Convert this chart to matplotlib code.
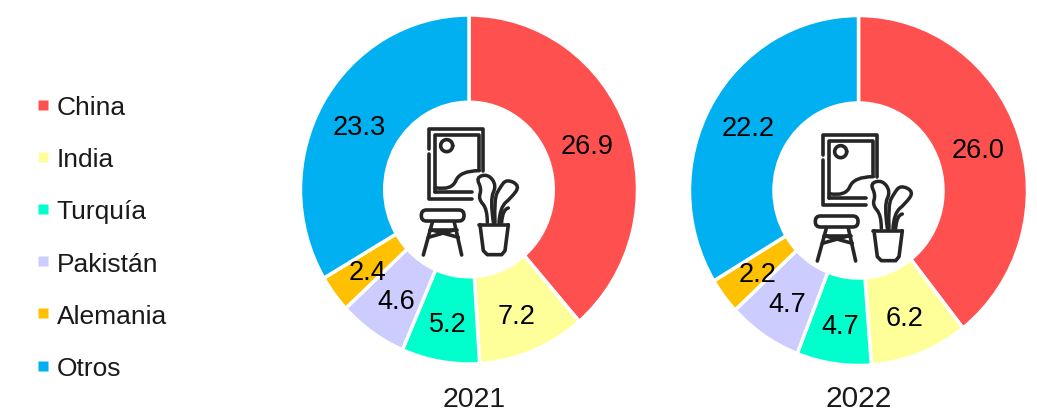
"""Cuota de mercado en dos anillos, 2021 y 2022, con icono central."""
from __future__ import annotations

import matplotlib

matplotlib.use("Agg")
import matplotlib.pyplot as plt
from matplotlib.lines import Line2D
from matplotlib.patches import FancyBboxPatch, PathPatch
from matplotlib.path import Path as MplPath
import numpy as np

W, H = 1037, 414

CATEGORIES = ["China", "India", "Turquía", "Pakistán", "Alemania", "Otros"]
VALUES_2021 = [26.9, 7.2, 5.2, 4.6, 2.4, 23.3]
VALUES_2022 = [26.0, 6.2, 4.7, 4.7, 2.2, 22.2]
YEARS = ["2021", "2022"]
COLORS = ["#ff5050", "#ffff99", "#00ffcc", "#ccccff", "#ffc000", "#00b0f0"]
INK = "#262626"


def smooth(points):
    # quadratic spline through the midpoints of the control polygon
    pts = np.asarray(points, dtype=float)
    verts = [pts[0]]
    codes = [MplPath.MOVETO]
    for i in range(1, len(pts) - 1):
        end = pts[i + 1] if i == len(pts) - 2 else (pts[i] + pts[i + 1]) / 2
        verts += [pts[i], end]
        codes += [MplPath.CURVE3, MplPath.CURVE3]
    return MplPath(verts, codes)


def draw_icon(ax, x0, y0):
    # shapes are in 3x crop pixels, x0/y0 is the crop origin
    style = dict(color=INK, lw=2.6, solid_capstyle="round", solid_joinstyle="round")

    def line(xs, ys, **kw):
        ax.plot([x0 + x / 3 for x in xs], [y0 + y / 3 for y in ys], **{**style, **kw})

    def curve(points):
        pts = [(x0 + x / 3, y0 + y / 3) for x, y in points]
        ax.add_patch(PathPatch(smooth(pts), fc="none", ec=INK, lw=2.5, capstyle="round"))

    # picture frame
    line([86, 86, 250, 250], [120, 60, 60, 185])
    line([86, 86, 215], [135, 270, 270])
    line([106, 106, 238, 238], [250, 78, 78, 180])
    line([106, 215], [250, 250])
    sun = np.linspace(0, 2 * np.pi, 40)
    line(140 + 18 * np.cos(sun), 110 + 18 * np.sin(sun))
    curve([(106, 236), (155, 245), (180, 185), (238, 185)])

    # stool
    ax.add_patch(FancyBboxPatch((x0 + 64 / 3, y0 + 303 / 3), 128 / 3, 33 / 3,
                                boxstyle="round,pad=0,rounding_size=5.2", fc="none", ec=INK, lw=2.6))
    line([97, 70], [340, 438])
    line([163, 185], [340, 438])
    line([90, 170], [362, 362])
    line([85, 165], [385, 362])
    line([92, 175], [362, 385])

    # pot and plant
    line([238, 325], [347, 347])
    line([240, 250, 262, 305, 315, 325], [347, 425, 437, 437, 425, 347])
    curve([(262, 340), (262, 300), (235, 270), (245, 240), (228, 205), (265, 195),
           (290, 230), (270, 270), (280, 340)])
    curve([(285, 340), (282, 270), (300, 235), (320, 210), (360, 230), (335, 265),
           (300, 295), (297, 340)])
    curve([(305, 340), (308, 300), (325, 297)])


def main() -> int:
    plt.rcParams.update({"font.family": ["Liberation Sans", "DejaVu Sans"]})
    fig = plt.figure(figsize=(W / 100, H / 100), dpi=100)

    boxes = [(300.5, 16, 337, 349), (689.5, 16.5, 338, 350)]
    year_y = [400.5, 399]
    year_x = [474, 859]
    for values, box in zip([VALUES_2021, VALUES_2022], boxes):
        left, top, w, h = box
        ax = fig.add_axes([left / W, 1 - (top + h) / H, w / W, h / H])
        ax.pie(values, colors=COLORS, startangle=90, counterclock=False, radius=1,
               wedgeprops=dict(width=0.5, edgecolor="white", linewidth=2.5))
        ax.set_aspect("auto")
        ax.set_xlim(-1, 1)
        ax.set_ylim(-1, 1)
        start = 0.0
        total = sum(values)
        for v in values:
            mid = (start + v / 2) / total * 2 * np.pi
            c = np.cos(mid)
            ry = 0.75 if c > 0 else 0.77
            ax.text(0.75 * np.sin(mid), ry * c - 0.012, f"{v:.1f}", ha="center", va="center",
                    fontsize=19.5, color="black")
            start += v

    over = fig.add_axes([0, 0, 1, 1], zorder=5)
    over.set_xlim(0, W)
    over.set_ylim(H, 0)
    over.axis("off")
    over.patch.set_alpha(0)
    draw_icon(over, 400, 110)
    draw_icon(over, 794, 116)
    for year, x, y, fs in zip(YEARS, year_x, year_y, [20.5, 21.5]):
        over.text(x, y, year, ha="center", va="center", fontsize=fs, color="#1a1a1a")

    handles = [Line2D([], [], ls="none", marker="s", ms=7.3, mec="none", mfc=c) for c in COLORS]
    fig.legend(handles, CATEGORIES, loc="center left", bbox_to_anchor=(35 / W, 1 - 238.5 / H),
               frameon=False, fontsize=19, labelspacing=1.065, handlelength=0.6, handletextpad=0.22,
               borderpad=0, borderaxespad=0, labelcolor="#1a1a1a")

    fig.savefig("out.png", dpi=100)
    plt.close(fig)
    return 0


if __name__ == "__main__":
    raise SystemExit(main())
